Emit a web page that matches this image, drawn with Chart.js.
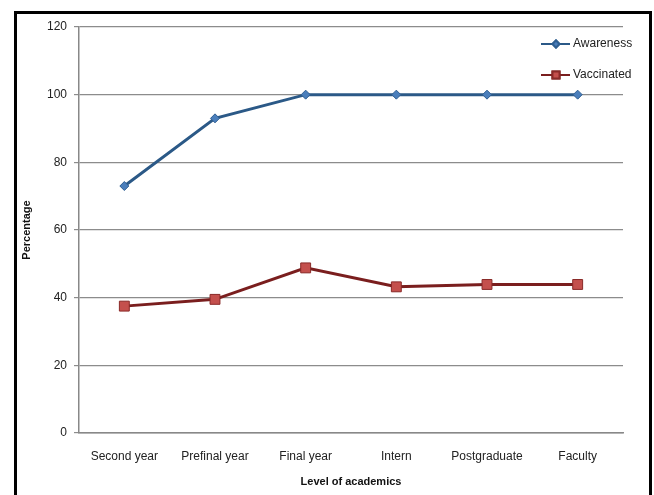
<!DOCTYPE html>
<html>
<head>
<meta charset="utf-8">
<script src="https://cdn.jsdelivr.net/npm/chart.js@4.4.1/dist/chart.umd.min.js"></script>
<style>
  html, body { margin: 0; padding: 0; background: #fff; }
  #wrap { position: relative; width: 654px; height: 495px; overflow: hidden; }
  #frame { position: absolute; left: 14px; top: 11px; width: 632px; height: 500px; border: 3px solid #000; }
  canvas { position: absolute; left: 0; top: 0; }
</style>
</head>
<body>
<div id="wrap">
  <div id="frame"></div>
  <canvas id="chart" width="654" height="495"></canvas>
</div>
<script>
const levels = ['Second year', 'Prefinal year', 'Final year', 'Intern', 'Postgraduate', 'Faculty'];
const awareness = [73, 93, 100, 100, 100, 100];
const vaccinated = [37.5, 39.5, 48.8, 43.2, 43.9, 43.9];
const yTicks = [0, 20, 40, 60, 80, 100, 120];

const fontFam = '"Liberation Sans", Arial, sans-serif';

// legend drawn as line + marker, like the original
const lineLegend = {
    id: 'lineLegend',
    afterDraw(chart) {
        const ctx = chart.ctx;
        const area = chart.chartArea;
        const x0 = area.right - 82;
        const rows = [area.top + 17, area.top + 48];
        const sizes = [3.5, 5];
        ctx.save();
        chart.data.datasets.forEach((ds, i) => {
            const y = rows[i];
            ctx.strokeStyle = ds.borderColor;
            ctx.lineWidth = 2;
            ctx.beginPath();
            ctx.moveTo(x0, y);
            ctx.lineTo(x0 + 29, y);
            ctx.stroke();
            Chart.helpers.drawPoint(ctx, {
                pointStyle: ds.pointStyle,
                radius: sizes[i],
                borderWidth: 1,
                rotation: 0
            }, x0 + 15, y);
            ctx.fillStyle = ds.pointBackgroundColor;
            ctx.strokeStyle = ds.pointBorderColor;
            ctx.fill();
            ctx.stroke();
            ctx.fillStyle = '#222';
            ctx.font = '12px ' + fontFam;
            ctx.textBaseline = 'middle';
            ctx.textAlign = 'left';
            ctx.fillText(ds.label, x0 + 32, y);
        });
        ctx.restore();
    }
};

new Chart(document.getElementById('chart'), {
    type: 'line',
    data: {
        labels: levels,
        datasets: [{
            label: 'Awareness',
            data: awareness,
            borderColor: '#2b5987',
            borderWidth: 3,
            pointStyle: 'rectRot',
            pointRadius: 4.5,
            pointBackgroundColor: '#4a7ebb',
            pointBorderColor: '#2f5f92',
            pointBorderWidth: 1,
            tension: 0
        }, {
            label: 'Vaccinated',
            data: vaccinated,
            borderColor: '#7a1e1e',
            borderWidth: 3,
            pointStyle: 'rect',
            pointRadius: 7,
            pointBackgroundColor: '#c4504d',
            pointBorderColor: '#8a2a28',
            pointBorderWidth: 1,
            tension: 0
        }]
    },
    options: {
        responsive: false,
        animation: false,
        layout: { padding: { left: 0, right: 31, top: 27, bottom: 0 } },
        plugins: {
            legend: { display: false },
            tooltip: { enabled: false }
        },
        scales: {
            x: {
                offset: true,
                grid: { drawOnChartArea: false, drawTicks: false },
                border: { display: true, color: '#888', width: 1.5 },
                ticks: { color: '#222', font: { family: fontFam, size: 12 }, padding: 16, maxRotation: 0 },
                title: {
                    display: true,
                    text: 'Level of academics',
                    color: '#111',
                    font: { family: fontFam, size: 11, weight: 'bold' },
                    padding: { top: 0, bottom: 6 }
                },
                afterFit: s => { s.height = 62; }
            },
            y: {
                min: 0,
                max: 120,
                afterBuildTicks: s => { s.ticks = yTicks.map(v => ({ value: v })); },
                grid: { color: '#8c8c8c', lineWidth: 1.2, tickLength: 5 },
                border: { display: true, color: '#888', width: 1.5 },
                ticks: { color: '#222', font: { family: fontFam, size: 12 }, padding: 7 },
                title: {
                    display: true,
                    text: 'Percentage',
                    color: '#111',
                    font: { family: fontFam, size: 11, weight: 'bold' },
                    padding: { top: 20, bottom: 0 }
                },
                afterFit: s => { s.width = 79; }
            }
        }
    },
    plugins: [lineLegend]
});
</script>
</body>
</html>
